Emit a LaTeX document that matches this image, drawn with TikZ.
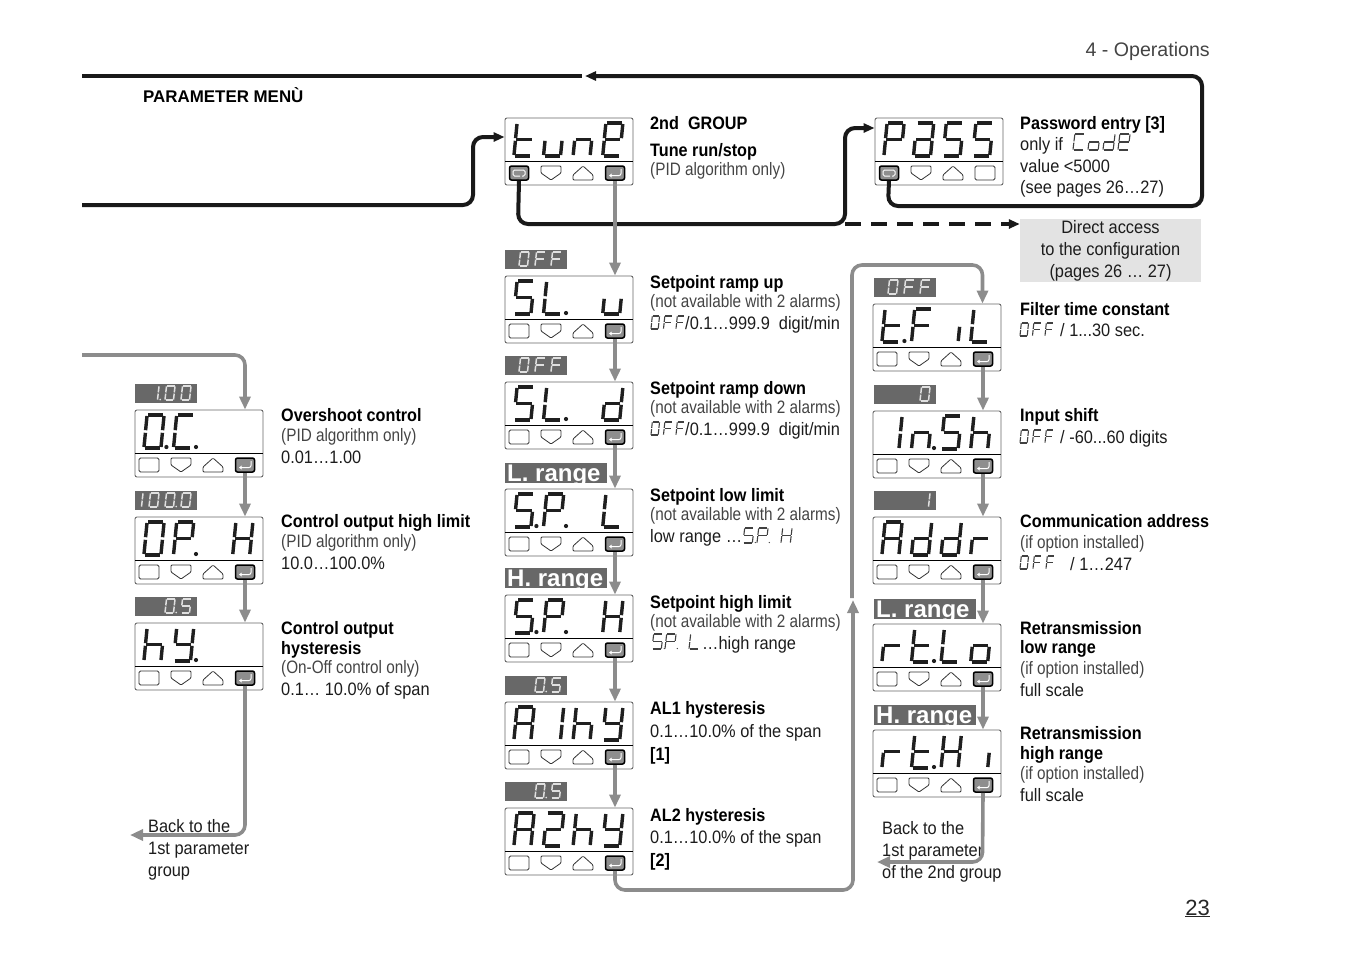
\documentclass[tikz,border=0pt]{standalone}
\usepackage{fontspec}
\usetikzlibrary{arrows.meta}
\setmainfont{Liberation Sans}
\newfontfamily\narrowfont{Liberation Sans}[FakeStretch=0.85]
\newfontfamily\valfont{Liberation Sans}[FakeStretch=0.91]
\newfontfamily\ttlfont{Liberation Sans}[FakeStretch=0.9]

\definecolor{darktxt}{HTML}{1C1C1C}
\definecolor{softtxt}{HTML}{444444}
\definecolor{linegray}{HTML}{8C8C8C}
\definecolor{tagfill}{HTML}{686868}
\definecolor{btnfill}{HTML}{8E8E8E}
\definecolor{boxgray}{HTML}{E3E3E3}

\newcommand{\sega}{\draw (.2,0) -- (.95,0);}
\newcommand{\segb}{\draw (1,.03) -- (.93,.46);}
\newcommand{\segc}{\draw (.92,.54) -- (.85,.97);}
\newcommand{\segd}{\draw (.05,1) -- (.8,1);}
\newcommand{\sege}{\draw (.07,.54) -- (0,.97);}
\newcommand{\segf}{\draw (.15,.03) -- (.08,.46);}
\newcommand{\segg}{\draw (.12,.5) -- (.88,.5);}
\newcommand{\segp}{\fill (1.12,.97) circle[radius=.62*\pgflinewidth];}

\newcommand{\defglyph}[2]{%
  \expandafter\def\csname glyph#1\endcsname{#2}%
  \expandafter\def\csname glyph#1.\endcsname{#2,p}}
\defglyph{-}{none}
\defglyph{t}{d,e,f,g}
\defglyph{u}{c,d,e}
\defglyph{n}{c,e,g}
\defglyph{E}{a,b,d,e,f,g}
\defglyph{P}{a,b,e,f,g}
\defglyph{a}{a,b,c,d,e,g}
\defglyph{S}{a,c,d,f,g}
\defglyph{L}{d,e,f}
\defglyph{d}{b,c,d,e,g}
\defglyph{O}{a,b,c,d,e,f}
\defglyph{F}{a,e,f,g}
\defglyph{i}{c}
\defglyph{1}{b,c}
\defglyph{r}{e,g}
\defglyph{o}{c,d,e,g}
\defglyph{H}{b,c,e,f,g}
\defglyph{A}{a,b,c,e,f,g}
\defglyph{h}{c,e,f,g}
\defglyph{Y}{b,c,d,f,g}
\defglyph{2}{a,b,d,e,g}
\defglyph{C}{a,d,e,f}

\newcommand{\segword}[7]{%
  \foreach \segch [count=\segi from 0] in {#7}{%
    \edef\seglist{\csname glyph\segch\endcsname}%
    \begin{scope}[shift={(#1+\segi*#5,#2)},x=#3pt,y=-#4pt,#6]
      \foreach \segname in \seglist {\csname seg\segname\endcsname}
    \end{scope}}}

\newcommand{\panel}[6]{%
  \node[panelbox] (#1) at (#2+64,#3+33.5) {};
  \draw[thin,black] (#2,#3+43.5) -- (#2+128,#3+43.5);
  \node[#5] (#1Esc) at (#2+14,#3+55) {};
  \draw[keyline] (#2+36,#3+48) -- (#2+56,#3+48) -- (#2+56,#3+55) -- (#2+46,#3+62) -- (#2+36,#3+55) -- cycle;
  \draw[keyline] (#2+68,#3+62) -- (#2+88,#3+62) -- (#2+88,#3+57) -- (#2+78,#3+48) -- (#2+68,#3+57) -- cycle;
  \node[#6] (#1Ent) at (#2+110,#3+55) {};
  \segword{#2+9}{#3+5}{20}{33}{29.6}{segmain}{#4}}

\newcommand{\valtag}[5]{%
  \node[tagbox,minimum width=62pt] (#1) at (#2+31,#3-16.5) {};
  \segword{#2+#4}{#3-24}{10}{14}{16}{segtag}{#5}}

\newcommand{\rangetag}[4]{%
  \node[tagbox,minimum width=102pt,minimum height=20pt] (#1) at (#2+51,#3) {};
  \begin{scope}
    \clip (#1.south west) rectangle (#1.north east);
    \node[rangetxt] (#1Txt) at (#2+2,#3+8.5) {#4};
  \end{scope}}

\tikzset{
  panelbox/.style={draw=black!60,fill=white,rounded corners=2pt,line width=.9pt,minimum width=128pt,minimum height=67pt,inner sep=0},
  keyline/.style={line width=.8pt,draw=black!80,rounded corners=1pt},
  btnplain/.style={draw=black!80,line width=.8pt,rounded corners=1.5pt,minimum width=20pt,minimum height=14pt,inner sep=0},
  btnenter/.style={draw=black,fill=btnfill,line width=1.5pt,rounded corners=2pt,minimum width=19pt,minimum height=14pt,inner sep=0,
    path picture={\draw[white,line width=1pt,-{Stealth[length=3pt,width=4pt]}] ([shift={(6pt,4pt)}]path picture bounding box.center) -- ([shift={(6pt,-2.5pt)}]path picture bounding box.center) -- ([shift={(-6pt,-2.5pt)}]path picture bounding box.center);}},
  btnloop/.style={draw=black,fill=btnfill,line width=1.5pt,rounded corners=2pt,minimum width=19pt,minimum height=14pt,inner sep=0,
    path picture={\draw[white,line width=1pt,rounded corners=1.5pt] ([shift={(1pt,-3pt)}]path picture bounding box.center) -- ([shift={(-6pt,-3pt)}]path picture bounding box.center) -- ([shift={(-6pt,3pt)}]path picture bounding box.center) -- ([shift={(6pt,3pt)}]path picture bounding box.center) -- ([shift={(6pt,-3pt)}]path picture bounding box.center) -- ([shift={(3pt,-3pt)}]path picture bounding box.center);}},
  tagbox/.style={fill=tagfill,minimum height=19pt,inner sep=0},
  rangetxt/.style={anchor=base west,inner sep=0,text=white,font=\fontsize{24}{24}\selectfont\bfseries},
  segmain/.style={color=black!88,line width=3.4pt},
  segtag/.style={color=white!88!black,line width=1.5pt},
  segtext/.style={color=black!75,line width=1.1pt},
  lbl/.style={anchor=base west,inner sep=0,text=softtxt,font=\narrowfont\fontsize{18}{20}\selectfont},
  val/.style={anchor=base west,inner sep=0,text=darktxt,font=\valfont\fontsize{18}{20}\selectfont},
  ttl/.style={anchor=base west,inner sep=0,text=black,font=\ttlfont\fontsize{18}{20}\selectfont\bfseries},
  blackline/.style={line width=4pt,black!90,rounded corners=10pt},
  grayline/.style={line width=3.6pt,linegray,rounded corners=10pt},
  blacktip/.style={-{Stealth[length=11pt,width=9pt,inset=0pt]}},
  graytip/.style={-{Stealth[length=13pt,width=11pt,inset=0pt]}},
}

\begin{document}
\begin{tikzpicture}[x=1pt,y=-1pt]
        \useasboundingbox (0,0) rectangle (1351,954);

        \node[anchor=base east,inner sep=0,text=softtxt,font=\fontsize{19.6}{20}\selectfont] (chapter) at (1210,56) {4 - Operations};
        \node[anchor=base west,inner sep=0,font=\fontsize{16.9}{18}\selectfont\bfseries] (menu) at (143,102) {PARAMETER MENÙ};
        \node[anchor=base east,inner sep=0,text=black!85,font=\fontsize{22}{24}\selectfont] (pagenum) at (1210,915) {\underline{23}};

        \panel{tune}{505}{118}{t,u,n,E}{btnloop}{btnenter}
        \panel{pass}{875}{118}{P,a,S,S}{btnloop}{btnplain}

        \valtag{sluTag}{505}{276}{14}{O,F,F}
        \panel{slu}{505}{276}{S,L.,-,u}{btnplain}{btnenter}
        \valtag{sldTag}{505}{382}{14}{O,F,F}
        \panel{sld}{505}{382}{S,L.,-,d}{btnplain}{btnenter}
        \rangetag{splTag}{505}{473}{L. range}
        \panel{spl}{505}{489}{S.,P.,-,L}{btnplain}{btnenter}
        \rangetag{sphTag}{505}{578}{H. range}
        \panel{sph}{505}{595}{S.,P.,-,H}{btnplain}{btnenter}
        \valtag{ahyTag}{505}{702}{30}{O.,S}
        \panel{ahy}{505}{702}{A,1,h,Y}{btnplain}{btnenter}
        \valtag{bhyTag}{505}{808}{30}{O.,S}
        \panel{bhy}{505}{808}{A,2,h,Y}{btnplain}{btnenter}

        \valtag{tfiTag}{874}{304}{14}{O,F,F}
        \panel{tfi}{873}{304}{t.,F,i,L}{btnplain}{btnenter}
        \valtag{inshTag}{874}{411}{46}{O}
        \panel{insh}{873}{411}{1,n.,S,h}{btnplain}{btnenter}
        \valtag{addrTag}{874}{517}{46}{1}
        \panel{addr}{873}{517}{A,d,d,r}{btnplain}{btnenter}
        \rangetag{rloTag}{874}{608.5}{L. range}
        \panel{rlo}{873}{624}{r,t.,L,o}{btnplain}{btnenter}
        \rangetag{rhiTag}{874}{715}{H. range}
        \panel{rhi}{873}{730}{r,t.,H,i}{btnplain}{btnenter}

        \valtag{ocTag}{135}{410}{14}{1.,O,O}
        \panel{oc}{135}{410}{O.,C.,-,-}{btnplain}{btnenter}
        \valtag{ophTag}{135}{517}{-2}{1,O,O.,O}
        \panel{oph}{135}{517}{O,P.,-,H}{btnplain}{btnenter}
        \valtag{hyTag}{135}{623}{30}{O.,S}
        \panel{hy}{135}{623}{h,Y.,-,-}{btnplain}{btnenter}

        \node[ttl] (tuneA) at (650,129) {2nd\ \ GROUP};
        \node[ttl] (tuneB) at (650,156) {Tune run/stop};
        \node[lbl] (tuneC) at (650,175) {(PID algorithm only)};

        \node[ttl] (passA) at (1020,129) {Password entry [3]};
        \node[val] (passB) at (1020,150) {only if};
        \segword{1073}{134}{12}{16}{15}{segtext}{C,o,d,E}
        \node[val] (passC) at (1020,172) {value <5000};
        \node[val] (passD) at (1020,193) {(see pages 26…27)};

        \node[ttl] (sluA) at (650,288.5) {Setpoint ramp up};
        \node[lbl] (sluB) at (650,307) {(not available with 2 alarms)};
        \segword{651}{316}{8.5}{13}{12.5}{segtext}{O,F,F}
        \node[val] (sluC) at (685,329) {/0.1…999.9\ \ digit/min};

        \node[ttl] (sldA) at (650,394.5) {Setpoint ramp down};
        \node[lbl] (sldB) at (650,413.5) {(not available with 2 alarms)};
        \segword{651}{422}{8.5}{13}{12.5}{segtext}{O,F,F}
        \node[val] (sldC) at (685,435.5) {/0.1…999.9\ \ digit/min};

        \node[ttl] (splA) at (650,501.5) {Setpoint low limit};
        \node[lbl] (splB) at (650,520) {(not available with 2 alarms)};
        \node[val] (splC) at (650,542.5) {low range …};
        \segword{743}{528}{11}{15}{14}{segtext}{S.,P.,-}
        \segword{781}{528}{11}{15}{14}{segtext}{H}

        \node[ttl] (sphA) at (650,608) {Setpoint high limit};
        \node[lbl] (sphB) at (650,627) {(not available with 2 alarms)};
        \segword{652}{634}{11}{15}{13}{segtext}{S.,P.}
        \segword{689}{634}{11}{15}{13}{segtext}{L}
        \node[val] (sphC) at (702,649) {…high range};

        \node[ttl] (ahyA) at (650,714.5) {AL1 hysteresis};
        \node[val] (ahyB) at (650,737) {0.1…10.0\% of the span};
        \node[ttl] (ahyC) at (650,760) {[1]};

        \node[ttl] (bhyA) at (650,821) {AL2 hysteresis};
        \node[val] (bhyB) at (650,843.5) {0.1…10.0\% of the span};
        \node[ttl] (bhyC) at (650,866) {[2]};

        \node[fill=boxgray,minimum width=181pt,minimum height=63pt,inner sep=0,align=center,text=darktxt,font=\valfont\fontsize{18}{22}\selectfont] (direct) at (1110.5,250.5) {Direct access\\to the configuration\\(pages 26 … 27)};

        \node[ttl] (tfiA) at (1020,315) {Filter time constant};
        \segword{1020}{323}{8.5}{13}{12.5}{segtext}{O,F,F}
        \node[val] (tfiB) at (1060,336.5) {/ 1...30 sec.};

        \node[ttl] (inshA) at (1020,421.5) {Input shift};
        \segword{1020}{430}{8.5}{13}{12.5}{segtext}{O,F,F}
        \node[val] (inshB) at (1060,443) {/ -60...60 digits};

        \node[ttl] (addrA) at (1020,527) {Communication address};
        \node[lbl] (addrB) at (1020,548) {(if option installed)};
        \segword{1020}{556}{8.5}{13}{13}{segtext}{O,F,F}
        \node[val] (addrC) at (1070,570) {/ 1…247};

        \node[ttl] (rloA) at (1020,634.5) {Retransmission};
        \node[ttl] (rloB) at (1020,653.5) {low range};
        \node[lbl] (rloC) at (1020,674) {(if option installed)};
        \node[val] (rloD) at (1020,696) {full scale};

        \node[ttl] (rhiA) at (1020,739.5) {Retransmission};
        \node[ttl] (rhiB) at (1020,759.5) {high range};
        \node[lbl] (rhiC) at (1020,779) {(if option installed)};
        \node[val] (rhiD) at (1020,801) {full scale};

        \node[ttl] (ocA) at (281,421.5) {Overshoot control};
        \node[lbl] (ocB) at (281,441) {(PID algorithm only)};
        \node[val] (ocC) at (281,463) {0.01…1.00};

        \node[ttl] (ophA) at (281,527.5) {Control output high limit};
        \node[lbl] (ophB) at (281,547) {(PID algorithm only)};
        \node[val] (ophC) at (281,569.5) {10.0…100.0\%};

        \node[ttl] (hyA) at (281,634.5) {Control output};
        \node[ttl] (hyB) at (281,654) {hysteresis};
        \node[lbl] (hyC) at (281,673) {(On-Off control only)};
        \node[val] (hyD) at (281,695.5) {0.1… 10.0\% of span};

        \node[val] (backA) at (148,832) {Back to the};
        \node[val] (backB) at (148,854) {1st parameter};
        \node[val] (backC) at (148,876) {group};

        \node[val] (backD) at (882,834) {Back to the};
        \node[val] (backE) at (882,856) {1st parameter};
        \node[val] (backF) at (882,878) {of the 2nd group};

        \coordinate (topA) at (82,76);
        \coordinate (topB) at (582,76);
        \coordinate (topC) at (585,76);
        \coordinate (topD) at (1202,76);
        \coordinate (topE) at (1202,206);
        \coordinate (topF) at (888,206);
        \coordinate (grpA) at (82,205);
        \coordinate (grpB) at (473,205);
        \coordinate (grpC) at (473,137);
        \coordinate (tuneA1) at (518,224);
        \coordinate (tuneB1) at (845,224);
        \coordinate (tuneC1) at (845,128);
        \coordinate (loopA) at (615,890);
        \coordinate (loopB) at (853,890);
        \coordinate (loopC) at (853,600);
        \coordinate (loopD) at (852,598);
        \coordinate (loopE) at (852,265);
        \coordinate (loopF) at (982.5,265);
        \coordinate (leftA) at (82,355);
        \coordinate (leftB) at (245,355);
        \coordinate (leftC) at (245,835);
        \coordinate (leftD) at (130,835);
        \coordinate (rhiB1) at (982.5,862);
        \coordinate (rhiC1) at (877,862);

        \draw[blackline] (topA) -- (topB);
        \draw[blackline,blacktip] (passEsc.south) -- (topF) -- (topE) -- (topD) -- (topC);
        \draw[blackline,blacktip] (grpA) -- (grpB) -- (grpC) -- (tune.west |- grpC);
        \draw[blackline,blacktip] (tuneEsc.south) -- (tuneA1) -- (tuneB1) -- (tuneC1) -- (pass.west |- tuneC1);
        \draw[line width=3.6pt,black!90,dash pattern=on 16pt off 10pt,blacktip] (tuneB1) -- (direct.west |- tuneB1);

        \draw[grayline,graytip] (tuneEnt.south) -- (tuneEnt.south |- slu.north);
        \draw[grayline,graytip] (sluEnt.south) -- (sluEnt.south |- sld.north);
        \draw[grayline,graytip] (sldEnt.south) -- (sldEnt.south |- spl.north);
        \draw[grayline,graytip] (splEnt.south) -- (splEnt.south |- sph.north);
        \draw[grayline,graytip] (sphEnt.south) -- (sphEnt.south |- ahy.north);
        \draw[grayline,graytip] (ahyEnt.south) -- (ahyEnt.south |- bhy.north);
        \draw[grayline,graytip] (bhyEnt.south) -- (loopA) -- (loopB) -- (loopC);
        \draw[grayline,graytip] (loopD) -- (loopE) -- (loopF) -- (tfi.north -| loopF);

        \draw[grayline,graytip] (tfiEnt.south) -- (tfiEnt.south |- insh.north);
        \draw[grayline,graytip] (inshEnt.south) -- (inshEnt.south |- addr.north);
        \draw[grayline,graytip] (addrEnt.south) -- (addrEnt.south |- rlo.north);
        \draw[grayline,graytip] (rloEnt.south) -- (rloEnt.south |- rhi.north);
        \draw[grayline,graytip] (rhiEnt.south) -- (rhiB1) -- (rhiC1);

        \draw[grayline,graytip] (leftA) -- (leftB) -- (oc.north -| leftB);
        \draw[grayline,graytip] (ocEnt.south) -- (ocEnt.south |- oph.north);
        \draw[grayline,graytip] (ophEnt.south) -- (ophEnt.south |- hy.north);
        \draw[grayline,graytip] (hyEnt.south) -- (leftC) -- (leftD);

    \end{tikzpicture}
\end{document}
